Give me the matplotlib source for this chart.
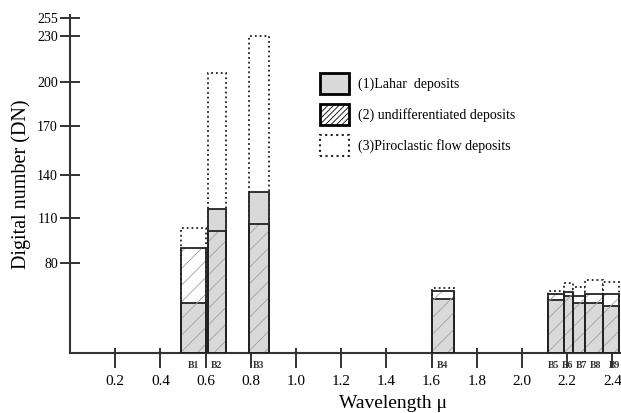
import numpy as np
import matplotlib
matplotlib.use('Agg')
import matplotlib.pyplot as plt
from matplotlib.patches import Patch

plt.rcParams['font.family'] = ['Liberation Serif', 'DejaVu Serif']
plt.rcParams['hatch.linewidth'] = 0.6

# ASTER bands: spectral range (um) and mean DN per deposit type
bands = ['B1', 'B2', 'B3', 'B4', 'B5', 'B6', 'B7', 'B8', 'B9']
band_lo = [0.49, 0.61, 0.79, 1.60, 2.115, 2.185, 2.225, 2.28, 2.36]
band_hi = [0.60, 0.69, 0.88, 1.70, 2.185, 2.225, 2.28, 2.36, 2.43]
lahar = [44, 116, 128, 48, 47, 51, 44, 44, 42]
undiff = [90, 101, 106, 55, 52, 54, 51, 52, 52]
pyro = [103, 206, 230, 58, 55, 62, 59, 65, 63]

x_ticks = [0.2, 0.4, 0.6, 0.8, 1.0, 1.2, 1.4, 1.6, 1.8, 2.0, 2.2, 2.4]
y_ticks = [80, 110, 140, 170, 200, 230, 255]

# the original axis is not linear: tick value -> drawn height
dn_knots = [0, 80, 110, 140, 170, 200, 230, 255, 300]
h_knots = [0, 90, 135, 178, 227, 271, 317.3, 335, 366.5]


def fwd(v):
    return np.interp(v, dn_knots, h_knots)


def inv(h):
    return np.interp(h, h_knots, dn_knots)


fig = plt.figure(figsize=(6.21, 4.13), dpi=100)
ax = fig.add_axes([70 / 621, 60 / 413, 551 / 621, 338 / 413])
ax.set_yscale('function', functions=(fwd, inv))

lo = np.array(band_lo)
w = np.array(band_hi) - lo
edge = '#222222'

ax.bar(lo, pyro, width=w, align='edge', facecolor='white', edgecolor=edge,
       linestyle=':', linewidth=1.3, zorder=2)
ax.bar(lo, lahar, width=w, align='edge', facecolor='#d9d9d9', edgecolor=edge,
       linewidth=1.3, zorder=3)
ax.bar(lo, undiff, width=w, align='edge', facecolor='none', edgecolor='#a0a0a0',
       hatch='//', linewidth=0, zorder=4)
ax.bar(lo, undiff, width=w, align='edge', facecolor='none', edgecolor=edge,
       linewidth=1.3, zorder=5)

# the SWIR labels are crowded, spread them a little (points)
nudge = {'B5': -1.5, 'B6': -0.5, 'B7': 1.5, 'B8': 1.0, 'B9': 2.0}
for name, a, b in zip(bands, band_lo, band_hi):
    ax.annotate(name, xy=((a + b) / 2, 0), xycoords=('data', 'axes fraction'),
                xytext=(nudge.get(name, 0), -9), textcoords='offset points',
                ha='center', va='center', fontsize=7, fontweight='bold',
                color='#333333')

ax.set_xlim(0, 551 / 226)
ax.set_ylim(0, 259)

for s in ['top', 'right']:
    ax.spines[s].set_visible(False)
for s in ['left', 'bottom']:
    ax.spines[s].set_linewidth(1.5)
    ax.spines[s].set_color('#333333')

ax.set_xticks(x_ticks)
ax.set_xticklabels([f'{t:.1f}' for t in x_ticks], fontsize=11)
ax.set_xticks(x_ticks, minor=True)
ax.xaxis.remove_overlapping_locs = False
ax.tick_params(axis='x', which='major', direction='out', length=10.8,
               width=1.4, color='#333333', pad=5)
ax.tick_params(axis='x', which='minor', direction='in', length=3.6,
               width=1.4, color='#333333')

ax.set_yticks(y_ticks)
ax.set_yticklabels([str(t) for t in y_ticks], fontsize=10)
ax.yaxis.set_minor_locator(matplotlib.ticker.NullLocator())
ax.tick_params(axis='y', direction='inout', length=14.4, width=1.4,
               color='#333333', pad=1.5)

ax.set_ylabel('Digital number (DN)', fontsize=14.5, labelpad=4)
ax.set_xlabel('Wavelength μ', fontsize=14, va='center')
ax.xaxis.set_label_coords(323 / 551, -50 / 338)

handles = [
    Patch(facecolor='#d9d9d9', edgecolor='black', linewidth=2),
    Patch(facecolor='white', edgecolor='black', hatch='//////', linewidth=2),
    Patch(facecolor='white', edgecolor=edge, linestyle=':', linewidth=1.5),
]
labels = ['(1)Lahar  deposits', '(2) undifferentiated deposits',
          '(3)Piroclastic flow deposits']
fig.legend(handles, labels, loc='upper left',
           bbox_to_anchor=(320 / 621, 1 - 73 / 413),
           bbox_transform=fig.transFigure, frameon=False, fontsize=10,
           handlelength=2.1, handleheight=1.9, handletextpad=0.6,
           labelspacing=0.75, borderpad=0, borderaxespad=0)

fig.savefig('out.png', dpi=100)
